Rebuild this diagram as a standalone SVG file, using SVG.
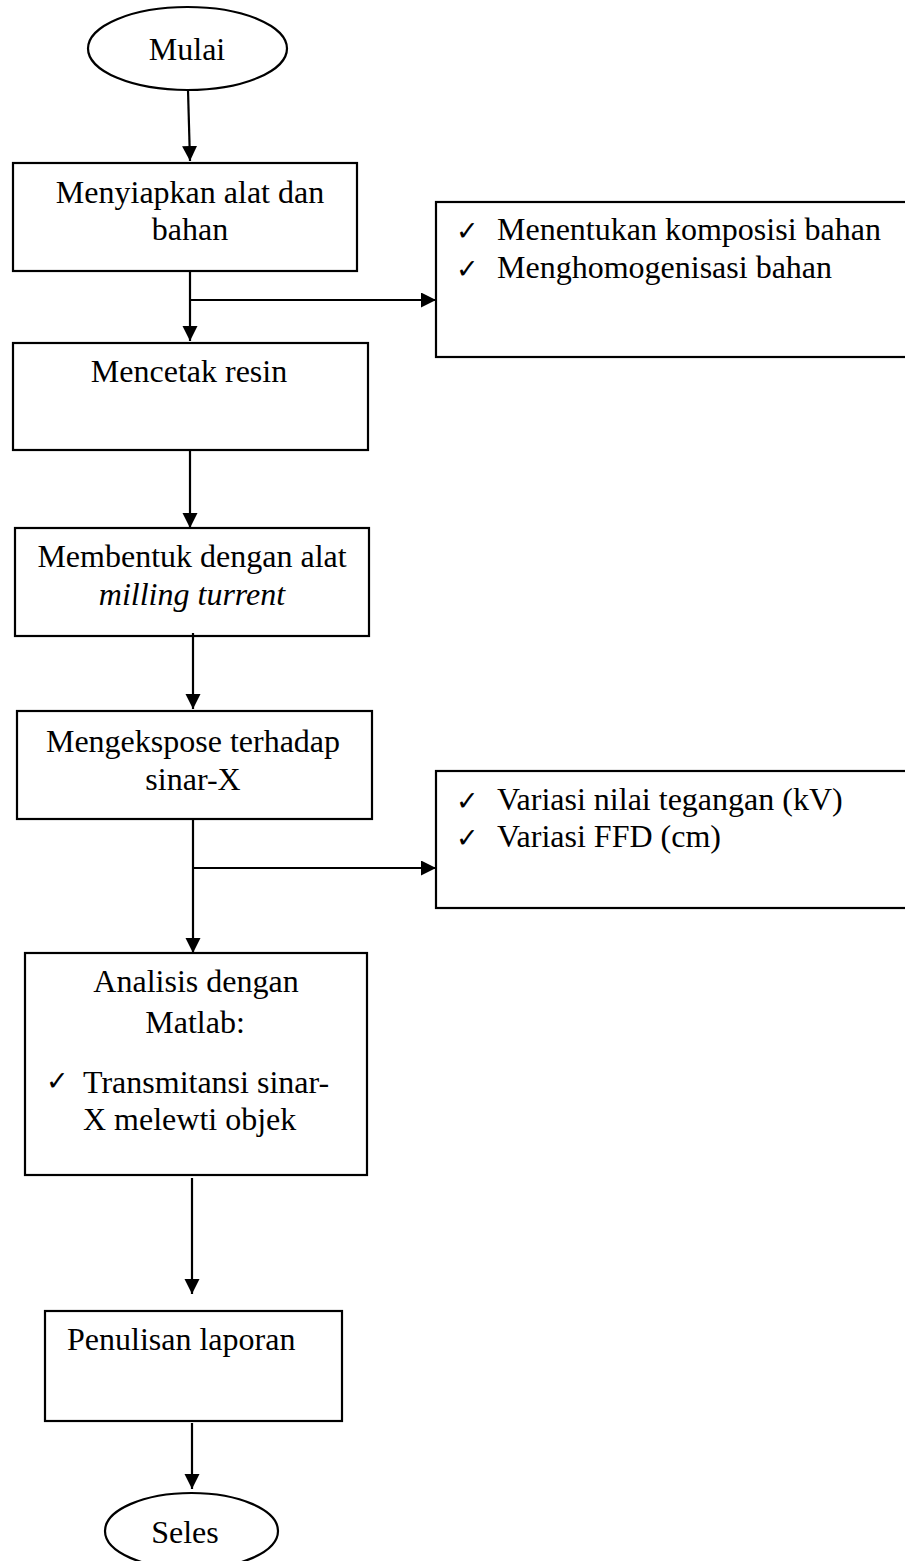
<svg xmlns="http://www.w3.org/2000/svg" width="905" height="1561" viewBox="0 0 905 1561">
<defs>
<marker id="ah" markerUnits="userSpaceOnUse" markerWidth="16" markerHeight="16" refX="15" refY="7.5" orient="auto">
<path d="M0,0 L15,7.5 L0,15 z" fill="#000"/>
</marker>
<style>
.shape{fill:#fff;stroke:#000;stroke-width:2.2}
.t{font-family:"Liberation Serif","Times New Roman",serif;font-size:32px;fill:#000}
.c{text-anchor:middle}
.ck{font-family:"DejaVu Sans",sans-serif;font-size:27px;fill:#000}
.conn line{stroke:#000;stroke-width:2.2;fill:none}
</style>
</defs>
<rect width="905" height="1561" fill="#fff"/>
<g id="mulai">
<ellipse class="shape" cx="187.5" cy="48.5" rx="99.5" ry="41.5"/>
<text class="t c" x="187" y="60">Mulai</text>
</g>
<g id="menyiapkan">
<rect class="shape" x="13" y="163" width="344" height="108"/>
<text class="t c" x="190" y="203">Menyiapkan alat dan</text>
<text class="t c" x="190" y="240">bahan</text>
</g>
<g id="komposisi">
<rect class="shape" x="436" y="202" width="480" height="155"/>
<text class="ck" x="456" y="240">✓</text>
<text class="t" x="497" y="240">Menentukan komposisi bahan</text>
<text class="ck" x="456" y="278">✓</text>
<text class="t" x="497" y="278">Menghomogenisasi bahan</text>
</g>
<g id="mencetak">
<rect class="shape" x="13" y="343" width="355" height="107"/>
<text class="t c" x="189" y="382">Mencetak resin</text>
</g>
<g id="membentuk">
<rect class="shape" x="15" y="528" width="354" height="108"/>
<text class="t c" x="192" y="567">Membentuk dengan alat</text>
<text class="t c" x="192" y="605" font-style="italic">milling turrent</text>
</g>
<g id="mengekspose">
<rect class="shape" x="17" y="711" width="355" height="108"/>
<text class="t c" x="193" y="752">Mengekspose terhadap</text>
<text class="t c" x="193" y="790">sinar-X</text>
</g>
<g id="variasi">
<rect class="shape" x="436" y="771" width="480" height="137"/>
<text class="ck" x="456" y="810">✓</text>
<text class="t" x="497" y="810">Variasi nilai tegangan (kV)</text>
<text class="ck" x="456" y="847">✓</text>
<text class="t" x="497" y="847">Variasi FFD (cm)</text>
</g>
<g id="analisis">
<rect class="shape" x="25" y="953" width="342" height="222"/>
<text class="t c" x="196" y="992">Analisis dengan</text>
<text class="t c" x="195" y="1033">Matlab:</text>
<text class="ck" x="46" y="1090">✓</text>
<text class="t" x="83" y="1093">Transmitansi sinar-</text>
<text class="t" x="83" y="1130">X melewti objek</text>
</g>
<g id="penulisan">
<rect class="shape" x="45" y="1311" width="297" height="110"/>
<text class="t" x="67" y="1350">Penulisan laporan</text>
</g>
<g id="seles">
<ellipse class="shape" cx="191.5" cy="1531" rx="86.5" ry="38"/>
<text class="t c" x="185" y="1543">Seles</text>
</g>
<g id="connectors" class="conn">
<line x1="188" y1="90" x2="190" y2="161" marker-end="url(#ah)"/>
<line x1="190" y1="271" x2="190" y2="341" marker-end="url(#ah)"/>
<line x1="191" y1="300" x2="436" y2="300" marker-end="url(#ah)"/>
<line x1="190" y1="451" x2="190" y2="528" marker-end="url(#ah)"/>
<line x1="193" y1="633" x2="193" y2="709" marker-end="url(#ah)"/>
<line x1="193" y1="819" x2="193" y2="953" marker-end="url(#ah)"/>
<line x1="193" y1="868" x2="436" y2="868" marker-end="url(#ah)"/>
<line x1="192" y1="1178" x2="192" y2="1294" marker-end="url(#ah)"/>
<line x1="192" y1="1423" x2="192" y2="1489" marker-end="url(#ah)"/>
</g>
</svg>
